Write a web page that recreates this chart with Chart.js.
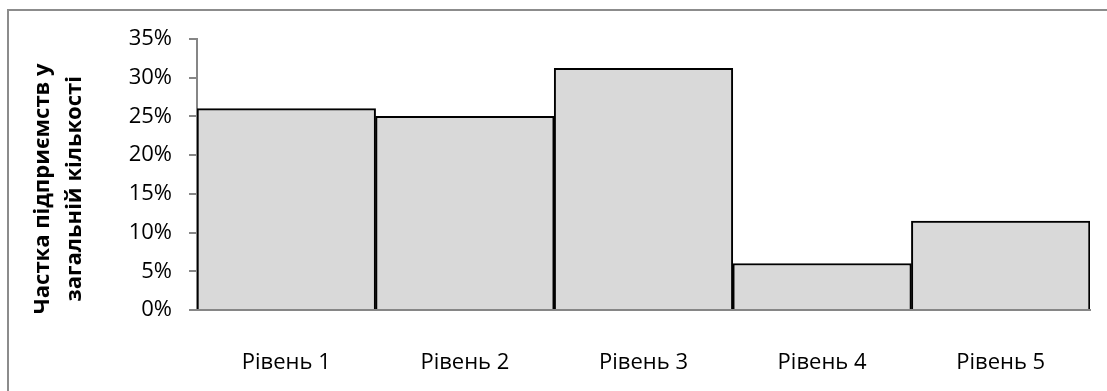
<!DOCTYPE html>
<html>
<head>
<meta charset="utf-8">
<script src="https://cdn.jsdelivr.net/npm/chart.js@4.4.1/dist/chart.umd.min.js"></script>
<style>
  html, body { margin: 0; padding: 0; background: #fff; overflow: hidden; }
  #wrap { position: relative; width: 1107px; height: 391px; }
  #frame { position: absolute; left: 7px; top: 9px; width: 1200px; height: 500px; border: 2px solid #8c8c8c; }
  #chart { position: absolute; left: 0; top: 0; }
</style>
</head>
<body>
<div id="wrap">
  <div id="frame"></div>
  <canvas id="chart" width="1107" height="391"></canvas>
</div>
<script>
// дані
var categories = ["Рівень 1", "Рівень 2", "Рівень 3", "Рівень 4", "Рівень 5"];
var shares = [26, 25, 31.2, 6, 11.5];
var yTitle = ["Частка підприємств у", "загальній кількості"];

// трохи зсуваємо підпис осі вниз, як в оригіналі (пробіли в кінці рядка)
var pad = '\u00a0\u00a0\u00a0\u00a0\u00a0';
var yTitleText = yTitle.map(function (s) { return s + pad; });

var ctx = document.getElementById("chart").getContext("2d");

var chart = new Chart(ctx, {
  type: 'bar',
  data: {
    labels: categories,
    datasets: [{
      data: shares,
      backgroundColor: '#d9d9d9',
      borderColor: '#000000',
      borderWidth: 2,
      borderSkipped: 'start',
      categoryPercentage: 1,
      barPercentage: 1
    }]
  },
  options: {
    responsive: false,
    animation: false,
    layout: { padding: { left: 0, top: 39, right: 17, bottom: 0 } },
    plugins: {
      legend: { display: false },
      tooltip: { enabled: false }
    },
    scales: {
      x: {
        z: 1,
        grid: { display: false },
        border: { display: true, color: '#868686', width: 2 },
        ticks: { color: '#000', padding: 32, font: { family: 'Open Sans', size: 22 } },
        afterFit: function (scale) { scale.height = 81; }
      },
      y: {
        min: 0,
        max: 35,
        grid: { drawOnChartArea: false, drawTicks: true, tickLength: 8, color: '#868686', lineWidth: 2 },
        border: { display: true, color: '#868686', width: 2 },
        ticks: {
          stepSize: 5,
          padding: 17,
          color: '#000',
          font: { family: 'Open Sans', size: 22 },
          callback: function (v) { return v + '%'; }
        },
        title: {
          display: true,
          text: yTitleText,
          color: '#000',
          padding: { top: 27, bottom: 0 },
          font: { family: 'Open Sans', size: 22, weight: 'bold', lineHeight: 1.45 }
        },
        afterFit: function (scale) { scale.width = 197; }
      }
    }
  }
});
</script>
</body>
</html>
